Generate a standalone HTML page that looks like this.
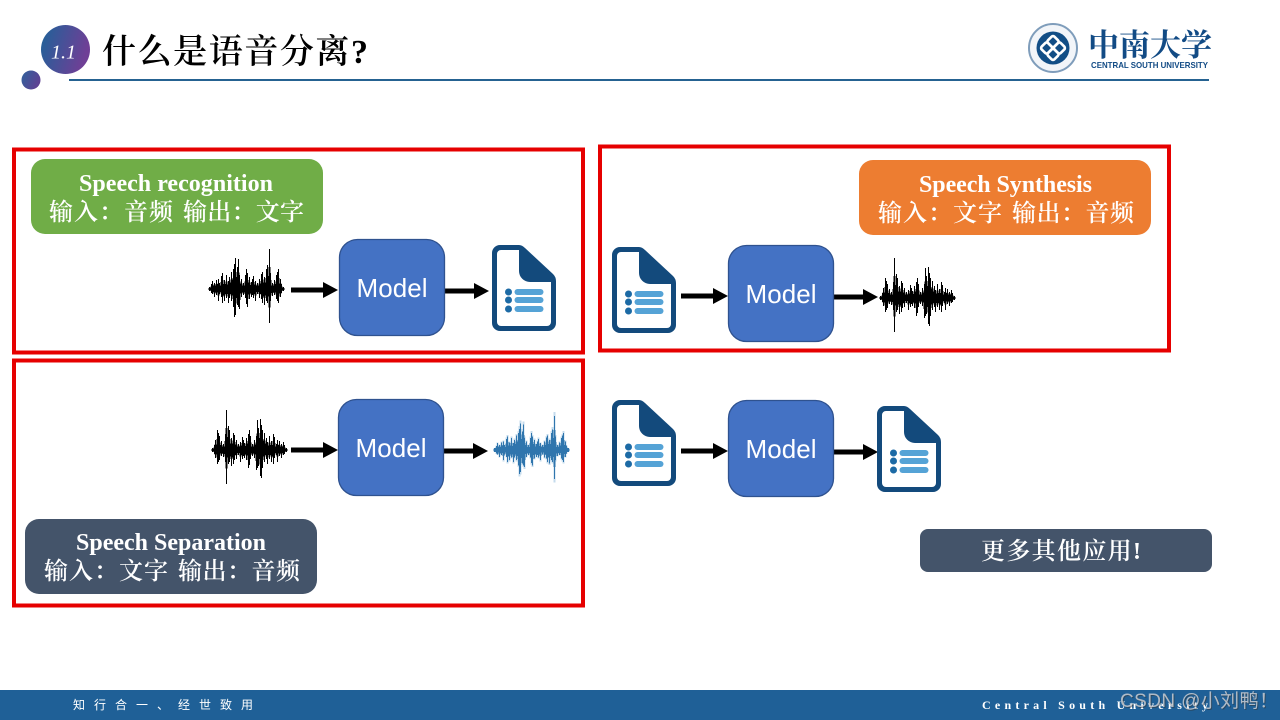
<!DOCTYPE html>
<html><head><meta charset="utf-8"><style>
html,body{margin:0;padding:0;background:#fff;width:1280px;height:720px;overflow:hidden}
svg{display:block}
.s{font-family:"Liberation Serif","Noto Serif CJK SC",serif}
.l{font-family:"Liberation Sans","Noto Sans CJK SC",sans-serif}
.h{font-size:24px;font-weight:bold;fill:#fff}
.c{font-size:24px;font-weight:600;fill:#fff}
.m{font-size:26px;fill:#fff}
</style></head><body>
<svg width="1280" height="720" viewBox="0 0 1280 720" xmlns="http://www.w3.org/2000/svg">
<defs>
<linearGradient id="g1" x1="0" y1="0" x2="1" y2="0.3"><stop offset="0" stop-color="#1d6399"/><stop offset="1" stop-color="#6f3f96"/></linearGradient>
<linearGradient id="g2" x1="0" y1="0" x2="1" y2="0.5"><stop offset="0" stop-color="#2f629c"/><stop offset="1" stop-color="#5f4193"/></linearGradient>
<g id="doc">
<path d="M8,0H27Q30,0 33,3L61,29Q64,32 64,36V78a8,8 0 0 1-8,8H8a8,8 0 0 1-8-8V8a8,8 0 0 1 8-8Z" fill="#134a7c"/>
<path d="M9,5H27V26a11,11 0 0 0 11,11H59V77a4,4 0 0 1-4,4H9a4,4 0 0 1-4-4V9a4,4 0 0 1 4-4Z" fill="#fff"/>
<circle cx="16.500" cy="47" r="3.500" fill="#1c6aa5"/><circle cx="16.500" cy="55" r="3.500" fill="#1c6aa5"/><circle cx="16.500" cy="64" r="3.500" fill="#1c6aa5"/>
<rect x="22.500" y="44" width="29" height="6" rx="3" fill="#55a3d6"/><rect x="22.500" y="52" width="29" height="6" rx="3" fill="#55a3d6"/><rect x="22.500" y="61" width="29" height="6" rx="3" fill="#55a3d6"/>
</g>
<path id="wv" fill="none" shape-rendering="crispEdges" d="M0.500-2V2M2.500-5V4M3.500-8V5M5.500-6V8M7.500-9V6M9.500-10V12M10.500-6V5M12.500-13V8M13.500-16V14M15.500-9V12M17.500-14V9M19.500-8V14M20.500-12V9M22.500-17V12M24.500-20V18M25.500-25V28M26.500-31V26M28.500-22V16M29.500-30V18M30.500-14V20M32.500-10V8M34.500-6V6M36.500-14V9M37.500-20V15M38.500-16V18M40.500-12V10M42.500-7V8M43.500-10V6M44.500-13V9M46.500-8V12M48.500-6V5M50.500-10V9M52.500-15V10M53.500-17V14M55.500-12V16M57.500-20V12M58.500-24V14M60.500-40V34M61.500-16V12M63.500-6V7M65.500-9V6M67.500-14V10M68.500-17V12M69.500-20V14M71.500-10V8M72.500-5V4M74.500-2V2"/>
<g id="wave"><use href="#wv" stroke="#000" stroke-width="1"/><use href="#wv" stroke="#000" stroke-width="2" transform="scale(1,0.55)"/><rect x="0" y="-1.500" width="75" height="3" fill="#000"/></g>
<g id="wave2"><g transform="translate(75,0) scale(-1,1)"><use href="#wave"/></g></g>
<g id="mdl"><rect x="0.500" y="0.500" width="105" height="96" rx="18" fill="#4472c4" stroke="#2f528f" stroke-width="1.300"/><text x="53" y="58" class="l m" text-anchor="middle" textLength="71">Model</text></g>
<g id="arr"><rect x="0" y="-2.500" width="34" height="5" fill="#000"/><path d="M32-8L47,0L32,8Z" fill="#000"/></g>
</defs>

<!-- header -->
<circle cx="65.500" cy="49.500" r="24.500" fill="url(#g1)"/>
<circle cx="31" cy="80" r="9.500" fill="url(#g2)"/>
<text x="51" y="58.500" class="s" font-size="20" font-style="italic" fill="#fff" textLength="25">1.1</text>
<text x="102" y="63" class="s" font-size="34" font-weight="600" fill="#000" textLength="266">什么是语音分离?</text>
<rect x="69" y="79" width="1140" height="2" fill="#256291"/>

<!-- logo -->
<circle cx="1053" cy="48" r="24" fill="#f2f5f9" stroke="#7f9dbb" stroke-width="2"/>
<circle cx="1053" cy="48" r="16.500" fill="#124e86"/>
<g fill="none" stroke="#fff" stroke-width="2.600" transform="rotate(45 1053 48)">
<rect x="1044" y="39" width="9" height="9" rx="2"/><rect x="1053" y="48" width="9" height="9" rx="2"/>
<rect x="1053" y="39" width="9" height="9" rx="2"/><rect x="1044" y="48" width="9" height="9" rx="2"/>
</g>
<text x="1088" y="56" class="s" font-size="31" font-weight="bold" fill="#124b85" textLength="124">中南大学</text>
<text x="1091" y="68" class="l" font-size="8.500" font-weight="bold" fill="#124b85" textLength="117" lengthAdjust="spacingAndGlyphs">CENTRAL SOUTH UNIVERSITY</text>

<!-- red boxes -->
<g fill="none" stroke="#e60000" stroke-width="4">
<rect x="14" y="149.500" width="569" height="203"/>
<rect x="600" y="146.500" width="569" height="204"/>
<rect x="14" y="360.500" width="569" height="245"/>
</g>

<!-- label boxes -->
<rect x="31" y="159" width="292" height="75" rx="14" fill="#70ad47"/>
<text x="79" y="191" class="s h" textLength="194">Speech recognition</text>
<text x="49" y="220" class="s c" textLength="124">输入：音频</text>
<text x="183" y="220" class="s c" textLength="121">输出：文字</text>

<rect x="859" y="160" width="292" height="75" rx="14" fill="#ed7d31"/>
<text x="919" y="192" class="s h" textLength="173">Speech Synthesis</text>
<text x="878" y="221" class="s c" textLength="124">输入：文字</text>
<text x="1012" y="221" class="s c" textLength="122">输出：音频</text>

<rect x="25" y="519" width="292" height="75" rx="14" fill="#44546a"/>
<text x="76" y="550" class="s h" textLength="190">Speech Separation</text>
<text x="44" y="579" class="s c" textLength="124">输入：文字</text>
<text x="178" y="579" class="s c" textLength="122">输出：音频</text>

<rect x="920" y="529" width="292" height="43" rx="8" fill="#44546a"/>
<text x="981" y="559" class="s c" textLength="160">更多其他应用!</text>

<!-- flow 1 -->
<use href="#wave" x="209" y="289"/>
<use href="#arr" x="291" y="290"/>
<use href="#arr" x="442" y="291"/>
<use href="#mdl" x="339" y="239"/>
<use href="#doc" x="492" y="245"/>

<!-- flow 2 -->
<use href="#doc" x="612" y="247"/>
<use href="#arr" x="681" y="296"/>
<use href="#arr" x="831" y="297"/>
<use href="#mdl" x="728" y="245"/>
<use href="#wave2" x="880" y="298"/>

<!-- flow 3 -->
<use href="#wave2" x="212" y="450"/>
<use href="#arr" x="291" y="450"/>
<use href="#arr" x="441" y="451"/>
<use href="#mdl" x="338" y="399"/>
<g transform="translate(494,450)" opacity="0.4"><use href="#wv" stroke="#6ea6d1" stroke-width="2" transform="scale(1,0.95)"/></g>
<g transform="translate(494,450)"><use href="#wv" stroke="#2f75ad" stroke-width="1" transform="scale(1,0.85)"/><use href="#wv" stroke="#2f75ad" stroke-width="2" transform="scale(1,0.5)"/><rect x="0" y="-2" width="75" height="4" fill="#2f75ad"/></g>

<!-- flow 4 -->
<use href="#doc" x="612" y="400"/>
<use href="#arr" x="681" y="451"/>
<use href="#arr" x="831" y="452"/>
<use href="#mdl" x="728" y="400"/>
<use href="#doc" x="877" y="406"/>

<!-- footer -->
<rect x="0" y="690" width="1280" height="30" fill="#1f6097"/>
<text x="73" y="709" class="l" font-size="12" fill="#fff" textLength="180">知行合一、经世致用</text>
<text x="982" y="709" class="s" font-size="12" font-weight="bold" fill="#fff" textLength="226">Central South University</text>
<text x="1121" y="708" class="l" font-size="19" fill="#333" fill-opacity="0.5" textLength="158">CSDN @小刘鸭！</text>
<text x="1120" y="707" class="l" font-size="19" fill="#c9ccd2" fill-opacity="0.85" textLength="158">CSDN @小刘鸭！</text>
</svg>
</body></html>
